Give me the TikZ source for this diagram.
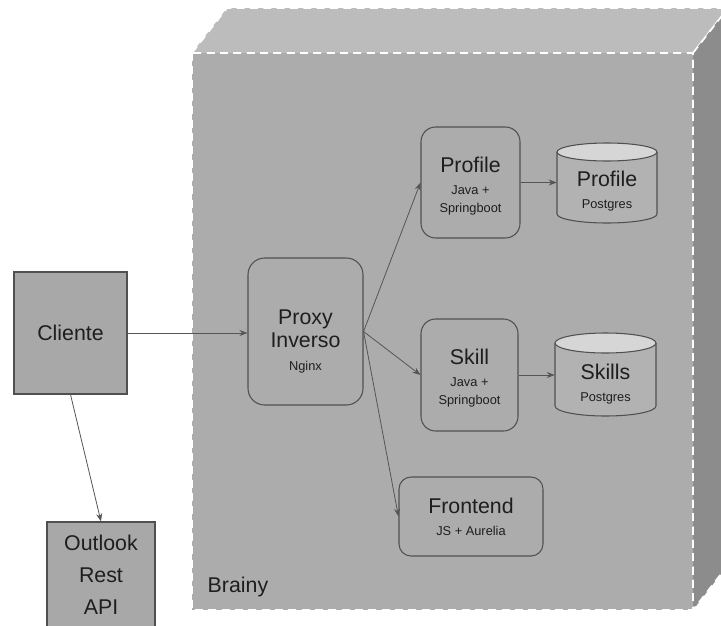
\documentclass[tikz,border=0pt]{standalone}
\usepackage{fontspec}
\setmainfont{Liberation Sans}
\usetikzlibrary{arrows.meta}

\definecolor{facefront}{HTML}{ACACAC}
\definecolor{facetop}{HTML}{BCBCBC}
\definecolor{faceside}{HTML}{8C8C8C}
\definecolor{boxgray}{HTML}{A8A8A8}
\definecolor{edgegray}{HTML}{505050}
\definecolor{linegray}{HTML}{555555}
\definecolor{dbbodygray}{HTML}{B2B2B2}
\definecolor{dbtopgray}{HTML}{D6D6D6}
\definecolor{textgray}{HTML}{1E1E1E}

\newcommand{\bigf}{\fontsize{16}{17}\selectfont}
\newcommand{\smallf}{\fontsize{9.6}{13.5}\selectfont}

\begin{document}
\begin{tikzpicture}[x=0.75pt, y=-0.75pt,
  box/.style={draw=edgegray, fill=boxgray, line width=0.8pt, inner sep=0pt, align=center, text=textgray, font=\bigf},
  svc/.style={draw=edgegray, rounded corners=11pt, line width=0.8pt, inner sep=0pt, align=center, text=textgray, font=\smallf},
  svctext/.style={align=center, text=textgray, font=\smallf},
  db/.style={inner sep=0pt, align=center, text=textgray, font=\smallf},
  dbbody/.style={draw=edgegray, fill=dbbodygray, line width=0.8pt},
  dbtop/.style={draw=edgegray, fill=dbtopgray, line width=0.8pt},
  face/.style={draw=white, dash pattern=on 6pt off 4pt, line width=1.3pt},
  link/.style={draw=linegray, line width=0.6pt, -{Stealth[length=6pt,width=4.5pt]}}]

\useasboundingbox (0,0) rectangle (721,625);
\clip (0,0) rectangle (721,625);

% the Brainy block
\filldraw[face, fill=facetop] (192,53) -- (227,8) -- (728,8) -- (693,53) -- cycle;
\filldraw[face, fill=faceside] (693,53) -- (728,8) -- (728,565) -- (693,610) -- cycle;
\filldraw[face, fill=facefront] (192,53) rectangle (693,610);
\node[anchor=base west, text=textgray, font=\bigf] (brainy) at (203,592) {Brainy};

\node[box, minimum width=84.75pt, minimum height=91.5pt] (cliente) at (70.5,333) {Cliente};
\node[box, minimum width=81pt, minimum height=79.5pt, font=\fontsize{16}{24}\selectfont] (outlook) at (101,575) {Outlook\\Rest\\API};

\node[svc, minimum width=86.25pt, minimum height=110.25pt, rounded corners=12.5pt,
  label={[name=proxytext, svctext, yshift=-7.5pt]center:{\bigf Proxy}\\[1.5pt]{\bigf Inverso}\\[4pt]Nginx}] (proxy) at (305.5,331.5) {};
\node[svc, minimum width=74.25pt, minimum height=83.25pt,
  label={[name=profiletext, svctext, yshift=-3pt]center:{\bigf Profile}\\[3pt]Java +\\Springboot}] (profilesvc) at (470.5,182.5) {};
\node[svc, minimum width=72.75pt, minimum height=84pt,
  label={[name=skilltext, svctext, yshift=-2.5pt]center:{\bigf Skill}\\[3pt]Java +\\Springboot}] (skillsvc) at (469.5,375) {};
\node[svc, minimum width=108pt, minimum height=59.25pt, rounded corners=9pt] (frontend) at (471,516.5) {{\bigf Frontend}\\[3pt]JS + Aurelia};

% databases
\filldraw[dbbody] (557,152) -- (557,214) arc[start angle=180, end angle=0, x radius=50, y radius=9] -- (657,152);
\filldraw[dbtop] (607,152) ellipse [x radius=50, y radius=9];
\node[db, minimum width=75pt, minimum height=60pt] (profiledb) at (607,191.5) {{\bigf Profile}\\[3pt]Postgres};

\filldraw[dbbody] (555,343) -- (555,406) arc[start angle=180, end angle=0, x radius=50.5, y radius=10] -- (656,343);
\filldraw[dbtop] (605.5,343) ellipse [x radius=50.5, y radius=10];
\node[db, minimum width=75.75pt, minimum height=62pt] (skillsdb) at (605.5,384) {{\bigf Skills}\\[3.5pt]Postgres};

\draw[link] (cliente.east) -- (cliente.east -| proxy.west);
\draw[link] (cliente.south) -- (outlook.north);
\draw[link] (proxy.east) -- (profilesvc.west);
\draw[link] (proxy.east) -- (skillsvc.west);
\draw[link] (proxy.east) -- (frontend.west);
\draw[link] (profilesvc.east) -- (profilesvc.east -| profiledb.west);
\draw[link] (skillsvc.east) -- (skillsvc.east -| skillsdb.west);

\end{tikzpicture}
\end{document}
